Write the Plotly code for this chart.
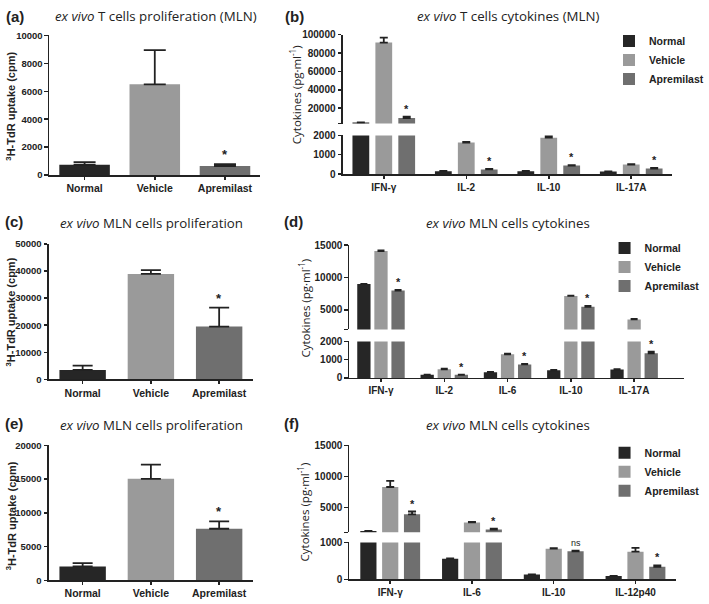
import plotly.graph_objects as go

W, H = 709, 604

# ---------------- data ----------------
groups = ["Normal", "Vehicle", "Apremilast"]
group_colors = ["#262626", "#9a9a9a", "#6f6f6f"]

# (a) ex vivo T cells proliferation (MLN)
a_mean = [740, 6500, 650]
a_sem = [180, 2450, 130]
a_sig = ["", "", "*"]
a_ticks = [0, 2000, 4000, 6000, 8000, 10000]

# (c) ex vivo MLN cells proliferation
c_mean = [3500, 38900, 19500]
c_sem = [1600, 1400, 7000]
c_sig = ["", "", "*"]
c_ticks = [0, 10000, 20000, 30000, 40000, 50000]

# (e) ex vivo MLN cells proliferation
e_mean = [2050, 15050, 7650]
e_sem = [500, 2100, 1100]
e_sig = ["", "", "*"]
e_ticks = [0, 5000, 10000, 15000, 20000]

# (b) ex vivo T cells cytokines (MLN)
b_cats = ["IFN-γ", "IL-2", "IL-10", "IL-17A"]
b_normal = [4400, 150, 150, 130]
b_normal_sem = [200, 10, 10, 10]
b_vehicle = [91500, 1630, 1880, 490]
b_vehicle_sem = [5300, 30, 100, 25]
b_apr = [9300, 240, 440, 290]
b_apr_sem = [1600, 25, 25, 35]
b_sig = ["*", "*", "*", "*"]
b_ticks_low = [0, 1000, 2000]
b_ticks_up = [20000, 40000, 60000, 80000, 100000]

# (d) ex vivo MLN cells cytokines
d_cats = ["IFN-γ", "IL-2", "IL-6", "IL-10", "IL-17A"]
d_normal = [9000, 175, 315, 420, 460]
d_normal_sem = [40, 10, 15, 20, 20]
d_vehicle = [14100, 475, 1300, 7170, 3550]
d_vehicle_sem = [80, 30, 30, 60, 60]
d_apr = [8000, 175, 745, 5500, 1350]
d_apr_sem = [100, 10, 30, 120, 100]
d_sig = ["*", "*", "*", "*", "*"]
d_ticks_low = [0, 1000, 2000]
d_ticks_up = [5000, 10000, 15000]

# (f) ex vivo MLN cells cytokines
f_cats = ["IFN-γ", "IL-6", "IL-10", "IL-12p40"]
f_normal = [1200, 560, 130, 90]
f_normal_sem = [30, 10, 5, 5]
f_vehicle = [8300, 2600, 830, 750]
f_vehicle_sem = [1000, 60, 15, 100]
f_apr = [3900, 1450, 760, 340]
f_apr_sem = [450, 150, 15, 40]
f_sig = ["*", "*", "ns", "*"]
f_ticks_low = [0, 1000]
f_ticks_up = [5000, 10000, 15000]

# ---------------- style helpers ----------------
INK = "#222222"
ARIAL = "Arial, Liberation Sans"
TITLEFONT = dict(family="Open Sans, Noto Sans", size=13.3, color=INK)


def xd(x0, x1):
    return [x0 / W, x1 / W]


def yd(top, bottom):
    return [1 - bottom / H, 1 - top / H]


def px(x):
    return x / W


def py(y):
    return 1 - y / H


fig = go.Figure()
layout = dict(width=W, height=H, margin=dict(l=0, r=0, t=0, b=0),
              paper_bgcolor="white", plot_bgcolor="white",
              barmode="overlay", showlegend=True)
annotations = []


def yaxis_cfg(dom, rng, ticks, anchor, fs, break_tick=False):
    cfg = dict(domain=yd(*dom), range=rng, anchor=anchor, showline=True,
               linecolor=INK, linewidth=1.5, ticks="outside", ticklen=3.5,
               tickwidth=1.5, tickcolor=INK, tickvals=list(ticks),
               ticktext=[str(t) for t in ticks],
               tickfont=dict(family=ARIAL, size=fs, color=INK, weight="bold"),
               showgrid=False, zeroline=False, fixedrange=True)
    if break_tick:
        cfg["minor"] = dict(tickvals=[rng[0]], ticks="outside", ticklen=3.5,
                            tickwidth=1.5, tickcolor=INK, showgrid=False)
    return cfg


def xaxis_cfg(dom, rng, anchor, visible=True, fs=10):
    return dict(domain=xd(*dom), range=rng, anchor=anchor, type="category",
                visible=visible, showline=True, linecolor=INK, linewidth=1.5,
                ticks="outside", ticklen=3, tickwidth=1.5,
                tickcolor=INK, showticklabels=True,
                tickfont=dict(family=ARIAL, size=fs, color=INK, weight="bold"),
                showgrid=False, zeroline=False, fixedrange=True)


def simple_panel(n, means, sems, sigs, xdom, ydom, ticks, width, capw):
    xa = "x" if n == 1 else f"x{n}"
    ya = "y" if n == 1 else f"y{n}"
    fig.add_trace(go.Bar(
        x=groups, y=means, xaxis=xa, yaxis=ya, width=width, offset=-width / 2,
        marker=dict(color=group_colors, line=dict(width=0)),
        error_y=dict(type="data", array=sems, arrayminus=[0] * len(sems),
                     symmetric=False, color=INK, thickness=1.8, width=capw),
        showlegend=False, hoverinfo="skip"))
    key = "" if n == 1 else str(n)
    layout["xaxis" + key] = xaxis_cfg(xdom, [-0.5, 2.5], ya, fs=10.5)
    layout["yaxis" + key] = yaxis_cfg(ydom, [0, ticks[-1]], ticks, xa, 9.5)
    for i, s in enumerate(sigs):
        if s:
            annotations.append(dict(x=i, y=means[i] + sems[i], xref=xa, yref=ya,
                                    text=s, showarrow=False, yanchor="bottom", yshift=0,
                                    font=dict(family=ARIAL, size=13, color=INK,
                                              weight="bold")))


def broken_panel(nl, nu, cats, series, sigs, xdom, xrng, low_dom, low_rng, low_ticks,
                 up_dom, up_rng, up_ticks, width, slot, capw, legend_name):
    xl, yl, xu, yu = f"x{nl}", f"y{nl}", f"x{nu}", f"y{nu}"
    offsets = [-slot - width / 2, -width / 2, slot - width / 2]
    brk = low_rng[1]
    for gi, (vals, sems) in enumerate(series):
        # lower segment: every bar (tall bars are clipped at the break)
        low_err = [s if v + s <= brk else 0 for v, s in zip(vals, sems)]
        fig.add_trace(go.Bar(
            x=cats, y=vals, xaxis=xl, yaxis=yl, width=width, offset=offsets[gi],
            name=groups[gi], legend=legend_name, showlegend=True,
            marker=dict(color=group_colors[gi], line=dict(width=0)),
            error_y=dict(type="data", array=low_err, arrayminus=[0] * len(vals),
                         symmetric=False, color=INK, thickness=1.8, width=capw),
            hoverinfo="skip"))
        # upper segment: only the bars that reach above the break
        up_vals = [v if v > brk else None for v in vals]
        up_err = [s if v > brk else 0 for v, s in zip(vals, sems)]
        fig.add_trace(go.Bar(
            x=cats, y=up_vals, xaxis=xu, yaxis=yu, width=width, offset=offsets[gi],
            name=groups[gi], legend=legend_name, showlegend=False,
            marker=dict(color=group_colors[gi], line=dict(width=0)),
            error_y=dict(type="data", array=up_err, arrayminus=[0] * len(vals),
                         symmetric=False, color=INK, thickness=1.8, width=capw),
            hoverinfo="skip"))
    layout[f"xaxis{nl}"] = xaxis_cfg(xdom, xrng, yl)
    layout[f"xaxis{nu}"] = xaxis_cfg(xdom, xrng, yu, visible=False)
    layout[f"yaxis{nl}"] = yaxis_cfg(low_dom, low_rng, low_ticks, xl, 10)
    layout[f"yaxis{nu}"] = yaxis_cfg(up_dom, up_rng, up_ticks, xu, 10, break_tick=True)
    apr_vals, apr_sems = series[2]
    for i, s in enumerate(sigs):
        if not s:
            continue
        top = apr_vals[i] + apr_sems[i]
        ya = yu if apr_vals[i] > brk else yl
        annotations.append(dict(x=i + offsets[2] + width / 2, y=top,
                                xref=xl if ya == yl else xu, yref=ya, text=s,
                                showarrow=False, yanchor="bottom",
                                yshift=0 if s == "*" else 1,
                                font=dict(family=ARIAL, size=11 if s == "*" else 9,
                                          color=INK,
                                          weight="bold" if s == "*" else "normal")))


# (a)
simple_panel(1, a_mean, a_sem, a_sig, (51, 268), (30, 172.5), a_ticks, 0.72, 11)
# (c)
simple_panel(4, c_mean, c_sem, c_sig, (50, 261), (242.7, 381), c_ticks, 0.68, 10)
# (e)
simple_panel(7, e_mean, e_sem, e_sig, (50, 261), (448.3, 586), e_ticks, 0.68, 10)

# (b)
broken_panel(2, 3, b_cats,
             [(b_normal, b_normal_sem), (b_vehicle, b_vehicle_sem), (b_apr, b_apr_sem)],
             b_sig, (353, 693), [-0.5, 3.5],
             (132, 171.5), [0, 2000], b_ticks_low,
             (29.3, 120), [3250, 100000], b_ticks_up,
             0.2035, 0.278, 4, "legend")
# (d)
broken_panel(5, 6, d_cats,
             [(d_normal, d_normal_sem), (d_vehicle, d_vehicle_sem), (d_apr, d_apr_sem)],
             d_sig, (360, 705), [-0.5, 4.79],
             (342.3, 379.5), [0, 2000], d_ticks_low,
             (244, 330), [2000, 15000], d_ticks_up,
             0.21, 0.27, 3.5, "legend2")
# (f)
broken_panel(8, 9, f_cats,
             [(f_normal, f_normal_sem), (f_vehicle, f_vehicle_sem), (f_apr, f_apr_sem)],
             f_sig, (360, 697), [-0.5, 3.5],
             (547.3, 585), [0, 1000], f_ticks_low,
             (448.3, 537), [1000, 15000], f_ticks_up,
             0.198, 0.267, 4, "legend3")

# legends
LEGFONT = dict(family=ARIAL, size=10.5, color=INK, weight="bold")
for name, lx, ly in [("legend", 628, 21), ("legend2", 623, 232), ("legend3", 623, 441)]:
    layout[name] = dict(x=px(lx), y=py(ly), xanchor="left", yanchor="top",
                        font=LEGFONT, bgcolor="rgba(0,0,0,0)", borderwidth=0,
                        tracegroupgap=0)

# titles, panel labels and axis titles
titles = [
    ("<i>ex vivo</i> T cells proliferation (MLN)", 161, 10),
    ("<i>ex vivo</i> T cells cytokines (MLN)", 524, 10),
    ("<i>ex vivo</i> MLN cells proliferation", 156, 221),
    ("<i>ex vivo</i> MLN cells cytokines", 524, 221),
    ("<i>ex vivo</i> MLN cells proliferation", 156, 427),
    ("<i>ex vivo</i> MLN cells cytokines", 524, 427),
]
for t, x, y in titles:
    annotations.append(dict(x=px(x), y=py(y), xref="paper", yref="paper", text=t,
                            showarrow=False, xanchor="center", yanchor="middle",
                            font=TITLEFONT))

labels = [("(a)", 15, 11), ("(b)", 303, 11), ("(c)", 14, 220),
          ("(d)", 302, 220), ("(e)", 14, 426), ("(f)", 300, 426)]
for t, x, y in labels:
    annotations.append(dict(x=px(x), y=py(y), xref="paper", yref="paper", text=t,
                            showarrow=False, xanchor="center", yanchor="middle",
                            font=dict(family=ARIAL, size=15, color=INK, weight="bold")))

ytitles_prolif = [(11, 102), (11, 312), (11, 520)]
for x, y in ytitles_prolif:
    annotations.append(dict(x=px(x), y=py(y), xref="paper", yref="paper",
                            text="<sup>3</sup>H-TdR uptake (cpm)", textangle=-90,
                            showarrow=False, xanchor="center", yanchor="middle",
                            font=dict(family=ARIAL, size=11, color=INK, weight="bold")))
ytitles_cyto = [(304, 90), (314, 308), (313, 516)]
for x, y in ytitles_cyto:
    annotations.append(dict(x=px(x), y=py(y), xref="paper", yref="paper",
                            text="Cytokines (pg·ml<sup>-1</sup>)", textangle=-90,
                            showarrow=False, xanchor="center", yanchor="middle",
                            font=dict(family="Open Sans, Noto Sans", size=11.5,
                                      color=INK)))

layout["annotations"] = annotations
fig.update_layout(**layout)
fig.write_html("out.html",
               config={"displayModeBar": False, "staticPlot": True},
               post_script="document.body.style.margin='0';"
                           "document.body.style.overflow='hidden';")
